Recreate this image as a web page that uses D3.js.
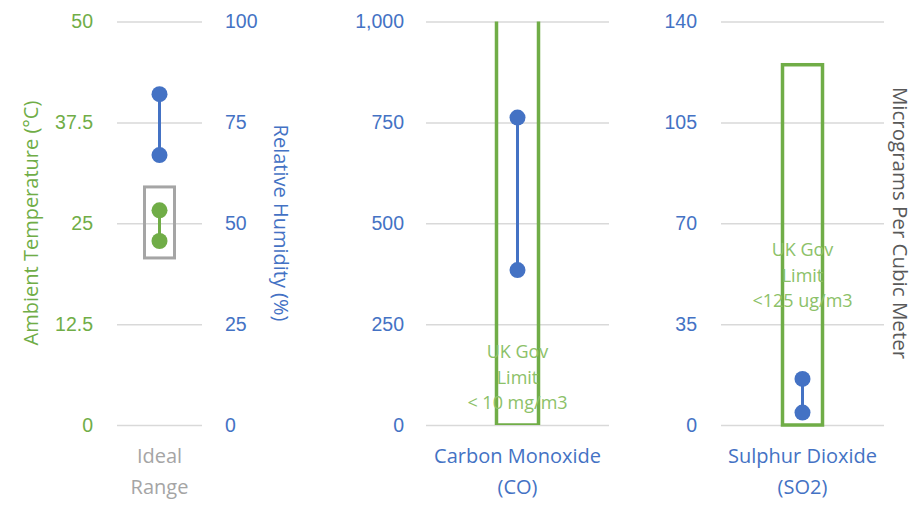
<!DOCTYPE html>
<html>
<head>
<meta charset="utf-8">
<script src="https://cdn.jsdelivr.net/npm/d3@7"></script>
<style>
  body { margin: 0; background: #fff; }
  svg { font-family: "Open Sans", sans-serif; }
  .axis .domain { display: none; }
  .axis line { stroke: #d9d9d9; stroke-width: 1.5; }
</style>
</head>
<body>
<script>
// data
var idealCategory = ["Ideal Range"];
var coCategory = ["Carbon Monoxide (CO)"];
var so2Category = ["Sulphur Dioxide (SO2)"];

var tempRange = [22.8, 26.6];        // °C
var tempIdealBox = [20.7, 29.5];     // °C
var humidityRange = [66.9, 82];      // %
var coRange = [384, 762];            // ug/m3
var coLimit = 10000;                 // 10 mg/m3, far above the axis
var so2Range = [4.3, 16];            // ug/m3
var so2Limit = 125;

var tempTicks = [0, 12.5, 25, 37.5, 50];
var humTicks = [0, 25, 50, 75, 100];
var coTicks = [0, 250, 500, 750, 1000];
var so2Ticks = [0, 35, 70, 105, 140];

var green = "#70ad47", blue = "#4472c4", grey = "#a5a5a5", dark = "#595959";
var top_ = 21.5, bottom = 425;

var svg = d3.select("body").append("svg")
    .attr("width", 922)
    .attr("height", 505);

svg.append("defs").append("clipPath").attr("id", "plotclip")
  .append("rect").attr("x", 0).attr("y", top_).attr("width", 922).attr("height", bottom - top_);

function yAxisG(scale, ticks, x, left, pad, color, fmt, gridW) {
  var ax = (left ? d3.axisLeft(scale) : d3.axisRight(scale))
      .tickValues(ticks)
      .tickSizeInner(gridW ? -gridW : 0)
      .tickSizeOuter(0)
      .tickPadding(pad)
      .tickFormat(fmt || function(d) { return d; });
  var g = svg.append("g")
      .attr("class", "axis")
      .attr("transform", "translate(" + x + ",0)")
      .call(ax);
  g.selectAll("text").attr("fill", color).style("font-size", "19.5px");
  return g;
}

function catLabel(lines, x, color) {
  var t = svg.append("text")
      .attr("text-anchor", "middle")
      .attr("fill", color)
      .style("font-size", "20px");
  lines.forEach(function(l, i) {
    t.append("tspan").attr("x", x).attr("y", 463 + i * 31).text(l);
  });
}

function dumbbell(x, y, range, color) {
  svg.append("line")
      .attr("x1", x).attr("x2", x)
      .attr("y1", y(range[0])).attr("y2", y(range[1]))
      .attr("stroke", color).attr("stroke-width", 3);
  svg.selectAll(null)
    .data(range)
    .enter().append("circle")
      .attr("cx", x)
      .attr("cy", function(d) { return y(d); })
      .attr("r", 8)
      .attr("fill", color);
}

function limitText(lines, x, y0, color) {
  var t = svg.append("text")
      .attr("text-anchor", "middle")
      .attr("fill", color)
      .style("font-size", "18px");
  lines.forEach(function(l, i) {
    t.append("tspan").attr("x", x).attr("y", y0 + i * 25.5).text(l);
  });
}

// ---- panel 1: ideal range
var x1 = d3.scaleBand().domain(idealCategory).range([117, 202]);
var yTemp = d3.scaleLinear().domain([0, 50]).range([bottom, top_]);
var yHum = d3.scaleLinear().domain([0, 100]).range([bottom, top_]);
var cx1 = x1(idealCategory[0]) + x1.bandwidth() / 2;

yAxisG(yTemp, tempTicks, 117, true, 24, green, null, 85);
yAxisG(yHum, humTicks, 202, false, 23, blue, null, 0);

svg.append("rect")
    .attr("x", cx1 - 15)
    .attr("width", 30)
    .attr("y", yTemp(tempIdealBox[1]))
    .attr("height", yTemp(tempIdealBox[0]) - yTemp(tempIdealBox[1]))
    .attr("fill", "none")
    .attr("stroke", grey)
    .attr("stroke-width", 3);

dumbbell(cx1, yHum, humidityRange, blue);
dumbbell(cx1, yTemp, tempRange, green);

svg.append("text")
    .attr("transform", "translate(38,223) rotate(-90)")
    .attr("text-anchor", "middle")
    .attr("fill", green)
    .style("font-size", "20px")
    .text("Ambient Temperature (°C)");

svg.append("text")
    .attr("transform", "translate(274,223) rotate(90)")
    .attr("text-anchor", "middle")
    .attr("fill", blue)
    .style("font-size", "20px")
    .text("Relative Humidity (%)");

catLabel(["Ideal", "Range"], cx1, grey);

// ---- panel 2: carbon monoxide
var x2 = d3.scaleBand().domain(coCategory).range([426, 609]);
var yCo = d3.scaleLinear().domain([0, 1000]).range([bottom, top_]);
var cx2 = x2(coCategory[0]) + x2.bandwidth() / 2;

yAxisG(yCo, coTicks, 426, true, 22, blue, d3.format(","), 183);

svg.append("rect")
    .attr("clip-path", "url(#plotclip)")
    .attr("x", cx2 - 21)
    .attr("width", 42)
    .attr("y", yCo(coLimit))
    .attr("height", yCo(0) - yCo(coLimit))
    .attr("fill", "none")
    .attr("stroke", green)
    .attr("stroke-width", 3.5);

dumbbell(cx2, yCo, coRange, blue);
limitText(["UK Gov", "Limit", "< 10 mg/m3"], cx2, 358, "#8cc168");
catLabel(["Carbon Monoxide", "(CO)"], cx2, blue);

// ---- panel 3: sulphur dioxide
var x3 = d3.scaleBand().domain(so2Category).range([721, 884]);
var ySo2 = d3.scaleLinear().domain([0, 140]).range([bottom, top_]);
var cx3 = x3(so2Category[0]) + x3.bandwidth() / 2;

yAxisG(ySo2, so2Ticks, 721, true, 24, blue, null, 163);

svg.append("rect")
    .attr("x", cx3 - 20)
    .attr("width", 40)
    .attr("y", ySo2(so2Limit))
    .attr("height", ySo2(0) - ySo2(so2Limit))
    .attr("fill", "none")
    .attr("stroke", green)
    .attr("stroke-width", 3.5);

dumbbell(cx3, ySo2, so2Range, blue);
limitText(["UK Gov", "Limit", "<125 ug/m3"], cx3, 256, "#8cc168");
catLabel(["Sulphur Dioxide", "(SO2)"], cx3, blue);

svg.append("text")
    .attr("transform", "translate(893,223) rotate(90)")
    .attr("text-anchor", "middle")
    .attr("fill", dark)
    .style("font-size", "20.5px")
    .text("Micrograms Per Cubic Meter");
</script>
</body>
</html>
